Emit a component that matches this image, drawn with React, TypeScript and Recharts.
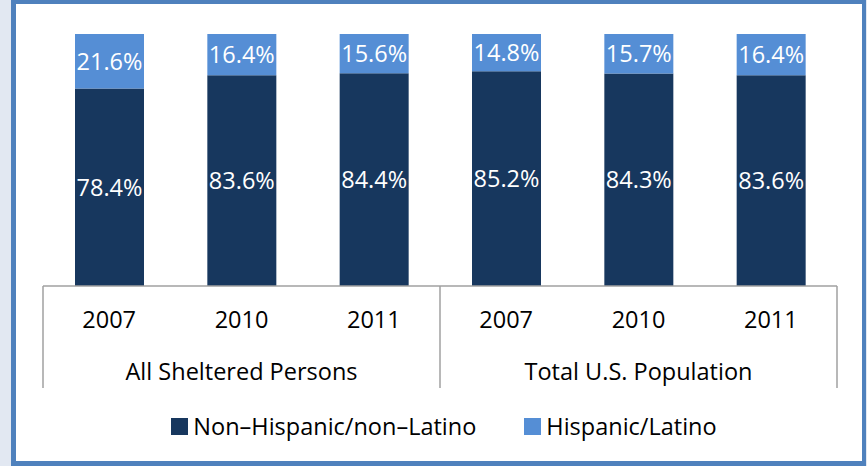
import React from 'react';
import { BarChart, Bar, XAxis, YAxis, LabelList, Legend } from 'recharts';

const years = ['2007', '2010', '2011', '2007', '2010', '2011'];
const groups = [
  'All Sheltered Persons',
  'All Sheltered Persons',
  'All Sheltered Persons',
  'Total U.S. Population',
  'Total U.S. Population',
  'Total U.S. Population',
];
const seriesNames = ['Non–Hispanic/non–Latino', 'Hispanic/Latino'];
const nonHispanic = [78.4, 83.6, 84.4, 85.2, 84.3, 83.6];
const hispanic = [21.6, 16.4, 15.6, 14.8, 15.7, 16.4];

const data = years.map((year, i) => ({
  key: `${groups[i]} ${year} ${i}`,
  year,
  group: groups[i],
  nonHispanic: nonHispanic[i],
  hispanic: hispanic[i],
}));

const W = 867;
const H = 466;
const FONT = '"Open Sans", "Liberation Sans", sans-serif';
const FS = 23.5;
const AXIS_GRAY = '#a0a0a0';
const margin = { top: 34, right: 30, left: 43, bottom: 5 };
const band = (W - margin.left - margin.right) / years.length;

const YearTick = (props: any) => {
  const { x, y, payload } = props;
  const i = payload.index;
  const half = payload.offset || band / 2;
  return (
    <g>
      <text x={x} y={y + 34} dy="0.35em" textAnchor="middle" fill="#000" fontSize={FS} fontFamily={FONT}>
        {years[i]}
      </text>
      {i === 0 && <line x1={x - half} x2={x - half} y1={y} y2={y + 102} stroke={AXIS_GRAY} strokeWidth={1.5} />}
      {(i === 2 || i === 5) && (
        <line x1={x + half} x2={x + half} y1={y} y2={y + 102} stroke={AXIS_GRAY} strokeWidth={1.5} />
      )}
    </g>
  );
};

const GroupTick = (props: any) => {
  const { x, y, payload } = props;
  const i = payload.index;
  // label sits under the middle bar of each group
  if (i % 3 !== 1) return <g />;
  return (
    <text x={x} y={y + 34} dy="0.35em" textAnchor="middle" fill="#000" fontSize={FS} fontFamily={FONT}>
      {groups[i]}
    </text>
  );
};

const renderLegend = (props: any) => {
  const items = [...(props.payload || [])].sort(
    (a: any, b: any) => seriesNames.indexOf(a.value) - seriesNames.indexOf(b.value)
  );
  return (
    <div
      style={{
        height: 70,
        display: 'flex',
        justifyContent: 'center',
        alignItems: 'center',
        paddingLeft: 21,
        boxSizing: 'border-box',
        fontFamily: FONT,
        fontSize: FS,
        color: '#000',
      }}
    >
      {items.map((entry: any, idx: number) => (
        <div key={entry.value} style={{ display: 'flex', alignItems: 'center', marginLeft: idx ? 48 : 0 }}>
          <span style={{ width: 17, height: 17, background: entry.color, marginRight: 5, display: 'inline-block' }} />
          <span>{entry.value}</span>
        </div>
      ))}
    </div>
  );
};

const fmt = (v: any) => `${Number(v).toFixed(1)}%`;

export default function App() {
  return (
    <div style={{ position: 'absolute', left: 0, top: 0, width: W, height: H, background: '#e2e8f2' }}>
      <div
        style={{
          position: 'absolute',
          left: 11,
          top: 0,
          width: 855,
          height: H,
          boxSizing: 'border-box',
          background: '#fff',
          border: '4px solid #4f81bd',
          borderLeftWidth: 5,
          borderBottomWidth: 5,
        }}
      />
      <div style={{ position: 'absolute', left: 0, top: 0 }}>
        <BarChart width={W} height={H} data={data} margin={margin} barSize={69}>
          <YAxis hide domain={[0, 100]} />
          <XAxis
            dataKey="key"
            height={52}
            interval={0}
            tickSize={0}
            tickMargin={0}
            tickLine={false}
            axisLine={{ stroke: AXIS_GRAY, strokeWidth: 1.5 }}
            tick={<YearTick />}
          />
          <XAxis
            xAxisId="group"
            dataKey="key"
            height={53}
            interval={0}
            tickSize={0}
            tickMargin={0}
            tickLine={false}
            axisLine={false}
            tick={<GroupTick />}
          />
          <Legend verticalAlign="bottom" content={renderLegend} wrapperStyle={{ left: 0, width: W, bottom: 5 }} />
          <Bar dataKey="nonHispanic" name={seriesNames[0]} stackId="a" fill="#17375e" isAnimationActive={false}>
            <LabelList dataKey="nonHispanic" position="center" fill="#fff" fontSize={FS} fontFamily={FONT} formatter={fmt} />
          </Bar>
          <Bar dataKey="hispanic" name={seriesNames[1]} stackId="a" fill="#558ed5" isAnimationActive={false}>
            <LabelList dataKey="hispanic" position="center" fill="#fff" fontSize={FS} fontFamily={FONT} formatter={fmt} />
          </Bar>
        </BarChart>
      </div>
    </div>
  );
}
